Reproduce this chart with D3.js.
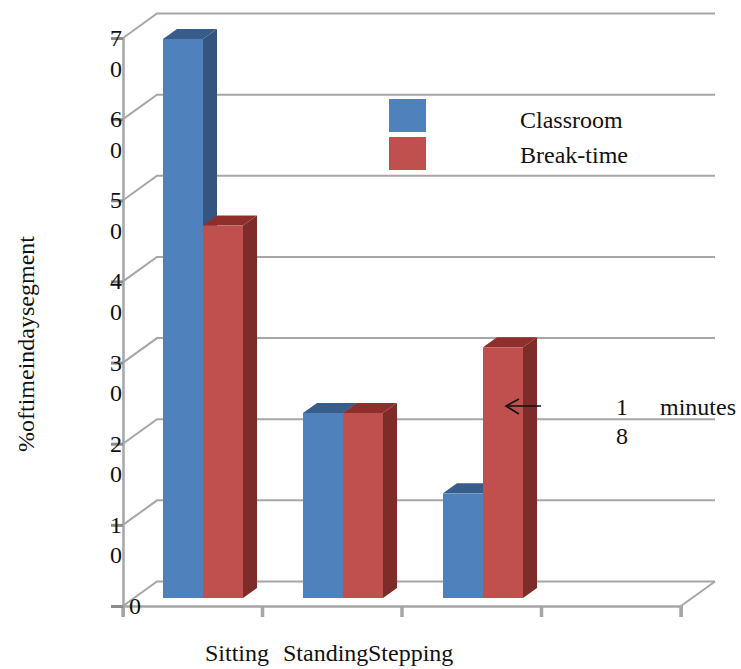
<!DOCTYPE html>
<html>
<head>
<meta charset="utf-8">
<script src="https://cdn.jsdelivr.net/npm/d3@7"></script>
<style>
    body { margin: 0; background: #fff; }
    svg { display: block; }
    text { font-family: "Liberation Serif", serif; font-size: 24px; fill: #111; }
</style>
</head>
<body>
<svg id="chart" width="741" height="669"></svg>
<script>
var categories = [ "Sitting", "Standing", "Stepping", "" ];
var seriesNames = [ "Classroom", "Break-time" ];
var classroom = [ 68.9, 22.8, 12.9 ];
var breakTime = [ 45.9, 22.8, 30.9 ];
var yTicks = [ 0, 10, 20, 30, 40, 50, 60, 70 ];

var frontColors = [ "#4f81bd", "#c0504d" ];
var topColors = [ "#385d8a", "#8f2f2c" ];
var sideColors = [ "#34557f", "#7d2c2a" ];
var axisColor = "#a6a6a6";

var svg = d3.select( "#chart" );

// wall depth and bar depth of the fake 3d
var wallDx = 34, wallDy = -24.5, barDx = 14, barDy = -10, barLift = 8;

var x = d3.scaleBand().domain( categories ).range( [ 123, 681 ] );
// the bars run on a slightly wider step than the axis ticks
var xBars = d3.scaleBand().domain( categories ).range( [ 123, 683 ] );
var xSeries = d3.scaleBand().domain( seriesNames ).range( [ 40, 120 ] );
var y = d3.scaleLinear().domain( [ 0, 70 ] ).range( [ 606, 38 ] );

function init() {
    drawWalls();
    drawBars();
    drawAxes();
    drawLegend();
    drawNotes();
}

function drawWalls() {
    var wall = svg.append( "g" )
        .attr( "fill", "none" )
        .attr( "stroke", axisColor )
        .attr( "stroke-width", 2 );

    yTicks.forEach( function( t ) {
        wall.append( "polyline" ).attr( "points", [
            [ x.range()[ 0 ], y( t ) ],
            [ x.range()[ 0 ] + wallDx, y( t ) + wallDy ],
            [ x.range()[ 1 ] + wallDx, y( t ) + wallDy ]
        ].join( " " ) );
    });

    // floor edge on the right
    wall.append( "line" )
        .attr( "x1", x.range()[ 1 ] )
        .attr( "y1", y( 0 ) )
        .attr( "x2", x.range()[ 1 ] + wallDx )
        .attr( "y2", y( 0 ) + wallDy );
}

function drawBars() {
    var values = [ classroom, breakTime ];

    categories.slice( 0, 3 ).forEach( function( cat, c ) {
        seriesNames.forEach( function( name, s ) {
            drawBar( xBars( cat ) + xSeries( name ), values[ s ][ c ], s );
        });
    });
}

function drawBar( left, value, s ) {
    var w = xSeries.bandwidth(),
        top = y( value ) - barLift,
        bottom = y( 0 ) - barLift,
        bar = svg.append( "g" ).attr( "class", "bar" );

    bar.append( "polygon" )
        .attr( "fill", sideColors[ s ] )
        .attr( "points", [
            [ left + w, top ],
            [ left + w + barDx, top + barDy ],
            [ left + w + barDx, bottom + barDy ],
            [ left + w, bottom ]
        ].join( " " ) );

    bar.append( "polygon" )
        .attr( "fill", topColors[ s ] )
        .attr( "points", [
            [ left, top ],
            [ left + barDx, top + barDy ],
            [ left + w + barDx, top + barDy ],
            [ left + w, top ]
        ].join( " " ) );

    bar.append( "rect" )
        .attr( "x", left )
        .attr( "y", top )
        .attr( "width", w )
        .attr( "height", bottom - top )
        .attr( "fill", frontColors[ s ] );
}

function drawAxes() {
    var xAxis = d3.axisBottom( x ).tickSize( 11 ).tickFormat( "" );
    var yAxis = d3.axisLeft( y ).tickValues( yTicks ).tickSize( 12 ).tickFormat( "" );

    var gx = svg.append( "g" )
        .attr( "transform", "translate(0," + y( 0 ) + ")" )
        .call( xAxis );

    // ticks sit on the band edges, not the band centres
    gx.selectAll( ".tick" ).remove();
    x.domain().concat( "end" ).forEach( function( cat, i ) {
        var px = x.range()[ 0 ] + i * x.step();
        gx.append( "line" )
            .attr( "x1", px ).attr( "x2", px )
            .attr( "y1", 0 ).attr( "y2", 11 )
            .attr( "stroke", axisColor )
            .attr( "stroke-width", 3.5 );
    });

    var gy = svg.append( "g" )
        .attr( "transform", "translate(" + x.range()[ 0 ] + ",0)" )
        .call( yAxis );

    gx.select( ".domain" ).attr( "stroke", axisColor ).attr( "stroke-width", 2.5 );
    gy.select( ".domain" ).attr( "stroke", axisColor ).attr( "stroke-width", 2.5 );
    gy.selectAll( ".tick line" ).attr( "stroke", "#8c8c8c" ).attr( "stroke-width", 3 );

    // tick numbers wrap one digit per line, as in the source figure
    yTicks.forEach( function( t ) {
        if ( t === 0 ) {
            svg.append( "text" )
                .attr( "x", 135 )
                .attr( "y", y( 0 ) + 8 )
                .attr( "text-anchor", "middle" )
                .text( t );
            return;
        }
        String( t ).split( "" ).forEach( function( digit, i ) {
            svg.append( "text" )
                .attr( "x", 116 )
                .attr( "y", y( t ) + 8 + i * 30.5 )
                .attr( "text-anchor", "middle" )
                .text( digit );
        });
    });

    svg.append( "text" )
        .attr( "transform", "translate(34,344) rotate(-90)" )
        .attr( "text-anchor", "middle" )
        .text( "%oftimeindaysegment" );

    var labels = svg.append( "text" ).attr( "x", 205 ).attr( "y", 661 );
    labels.append( "tspan" ).text( categories[ 0 ] );
    labels.append( "tspan" ).attr( "x", 283 ).text( categories[ 1 ] );
    labels.append( "tspan" ).attr( "x", 368 ).text( categories[ 2 ] );
}

function drawLegend() {
    seriesNames.forEach( function( name, i ) {
        svg.append( "rect" )
            .attr( "x", 389 )
            .attr( "y", 99 + i * 38 )
            .attr( "width", 37 )
            .attr( "height", 33 )
            .attr( "fill", frontColors[ i ] );

        svg.append( "text" )
            .attr( "x", 520 )
            .attr( "y", 128 + i * 35 )
            .text( name );
    });
}

function drawNotes() {
    var arrow = svg.append( "g" )
        .attr( "fill", "none" )
        .attr( "stroke", "#111" )
        .attr( "stroke-width", 1.6 );

    arrow.append( "line" )
        .attr( "x1", 541 ).attr( "y1", 406 )
        .attr( "x2", 506 ).attr( "y2", 406 );
    arrow.append( "polyline" )
        .attr( "points", "519,399 506,406 519,414" );

    svg.append( "text" ).attr( "x", 622 ).attr( "y", 415 )
        .attr( "text-anchor", "middle" ).text( "1" );
    svg.append( "text" ).attr( "x", 622 ).attr( "y", 444 )
        .attr( "text-anchor", "middle" ).text( "8" );
    svg.append( "text" ).attr( "x", 660 ).attr( "y", 415 ).text( "minutes" );
}

init();
</script>
</body>
</html>
